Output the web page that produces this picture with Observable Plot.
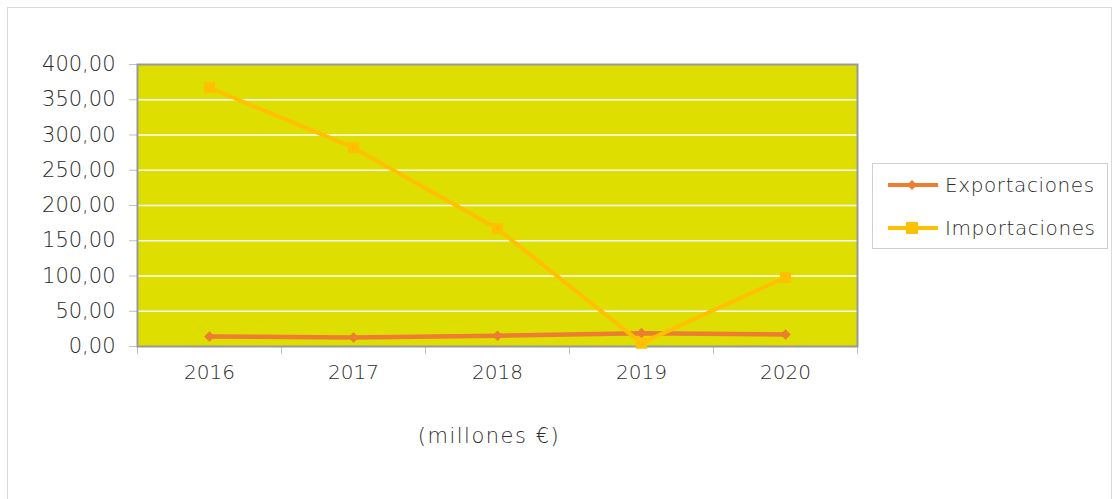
<!DOCTYPE html>
<html>
<head>
<meta charset="utf-8">
<script src="https://cdn.jsdelivr.net/npm/d3@7"></script>
<script src="https://cdn.jsdelivr.net/npm/@observablehq/plot@0.6"></script>
<style>
  body { margin: 0; background: #fff; font-family: "DejaVu Sans", sans-serif; color: #2b2b2b; }
  #wrap { position: relative; width: 1120px; height: 499px; overflow: hidden; }
  #border { position: absolute; left: 7px; top: 7px; width: 1105px; height: 500px; border: 1px solid #d9d9d9; box-sizing: border-box; }
  #chart { position: absolute; left: 0; top: 0; }
  #legend { position: absolute; left: 872px; top: 163px; width: 236px; height: 86px; border: 1px solid #d0d0d0; box-sizing: border-box; background: #fff; }
  .item { position: absolute; left: 13px; height: 24px; display: flex; align-items: center; font-size: 20px; font-weight: 200; letter-spacing: 0.6px; color: #2b2b2b; }
  .item svg { margin-right: 5px; }
  #caption { position: absolute; left: 339px; width: 300px; top: 424px; text-align: center; font-size: 21px; font-weight: 200; letter-spacing: 1.5px; color: #2b2b2b; }
</style>
</head>
<body>
<div id="wrap">
  <div id="border"></div>
  <div id="chart"></div>
  <div id="legend"></div>
  <div id="caption"></div>
</div>
<script>
const years = [2016, 2017, 2018, 2019, 2020];
const exportaciones = [14.2, 12.8, 15.2, 18.9, 17.0];
const importaciones = [367, 282, 167, 4.7, 98];
const seriesNames = ["Exportaciones", "Importaciones"];
const seriesColors = ["#ED7D31", "#FFC000"];
const seriesSymbols = ["diamond2", "square"];
const yTicks = [0, 50, 100, 150, 200, 250, 300, 350, 400];
const bandEdges = [2015.5, 2016.5, 2017.5, 2018.5, 2019.5, 2020.5];
const captionText = "(millones €)";

const data = [];
years.forEach((yr, i) => {
  data.push({year: yr, value: exportaciones[i], series: seriesNames[0]});
  data.push({year: yr, value: importaciones[i], series: seriesNames[1]});
});

const fmt = v => v.toFixed(2).replace(".", ",");
const font = '"DejaVu Sans", sans-serif';

const chart = Plot.plot({
  width: 1120,
  height: 499,
  marginLeft: 137,
  marginRight: 263,
  marginTop: 64,
  marginBottom: 153,
  style: {fontFamily: font, fontSize: "20px", color: "#2b2b2b", background: "transparent"},
  x: {domain: [2015.5, 2020.5]},
  y: {domain: [0, 400]},
  marks: [
    Plot.frame({fill: "#DEDE00", stroke: null}),
    Plot.gridY(yTicks.filter(d => d > 0 && d < 400), {stroke: "#fff", strokeOpacity: 1, strokeWidth: 1.5}),
    Plot.axisY(yTicks, {tickSize: 8, tickPadding: 14, tickFormat: fmt, stroke: "#bfbfbf", fontWeight: 200, fill: "#2b2b2b", fontSize: 21, letterSpacing: "3px", label: null}),
    Plot.axisX(bandEdges, {tickSize: 8, tickFormat: () => "", stroke: "#bfbfbf", label: null}),
    Plot.axisX(years, {tickSize: 0, tickPadding: 18, tickFormat: d => String(d), fontWeight: 200, fill: "#2b2b2b", fontSize: 20, label: null}),
    Plot.frame({stroke: "#999", strokeWidth: 2, fill: null}),
    Plot.line(data.filter(d => d.series === seriesNames[0]), {x: "year", y: "value", stroke: seriesColors[0], strokeWidth: 4.5}),
    Plot.dot(data.filter(d => d.series === seriesNames[0]), {x: "year", y: "value", fill: seriesColors[0], symbol: () => seriesSymbols[0], r: 4.8}),
    Plot.line(data.filter(d => d.series === seriesNames[1]), {x: "year", y: "value", stroke: seriesColors[1], strokeWidth: 4}),
    Plot.dot(data.filter(d => d.series === seriesNames[1]), {x: "year", y: "value", fill: seriesColors[1], symbol: () => seriesSymbols[1], r: 6.3})
  ]
});
document.getElementById("chart").appendChild(chart);

const legend = document.getElementById("legend");
seriesNames.forEach((name, i) => {
  const item = document.createElement("div");
  item.className = "item";
  item.style.top = (9 + i * 43) + "px";
  const marker = i === 0
    ? `<polygon points="26,7 31,12 26,17 21,12" fill="${seriesColors[i]}"/>`
    : `<rect x="20" y="6" width="12" height="12" fill="${seriesColors[i]}"/>`;
  item.innerHTML = `<svg width="54" height="24"><line x1="2" x2="52" y1="12" y2="12" stroke="${seriesColors[i]}" stroke-width="4"/>${marker}</svg><span>${name}</span>`;
  legend.appendChild(item);
});
document.getElementById("caption").textContent = captionText;
</script>
</body>
</html>
